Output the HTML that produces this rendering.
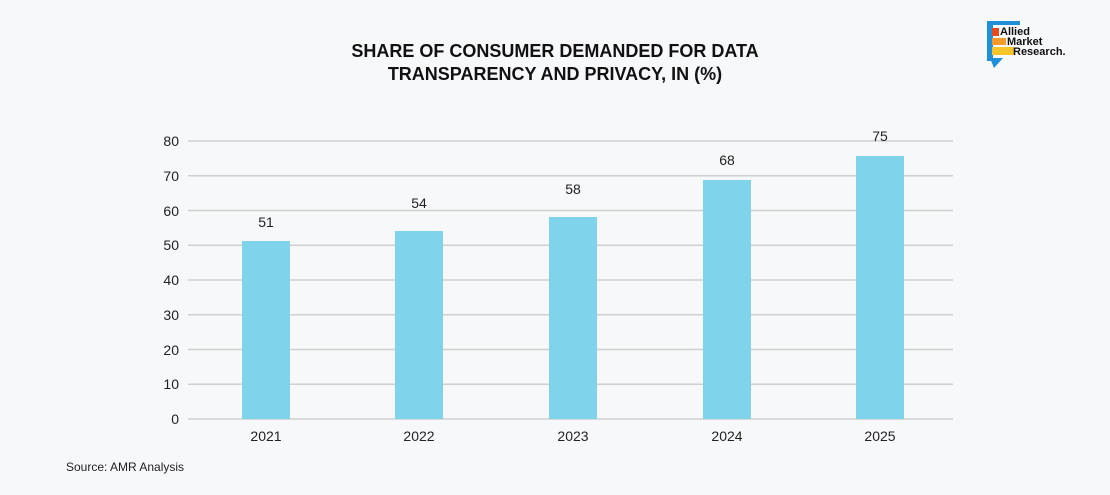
<!DOCTYPE html>
<html><head><style>
body{margin:0;width:1110px;height:490px;overflow:hidden;background:#f7f8f9;font-family:"Liberation Sans",sans-serif;}
</style></head><body>
<svg width="1110" height="490" xmlns="http://www.w3.org/2000/svg" font-family="Liberation Sans, sans-serif">
<rect width="1110" height="490" fill="#f7f8f9"/>
<text x="555" y="57" text-anchor="middle" font-size="18" font-weight="bold" fill="#111">SHARE OF CONSUMER DEMANDED FOR DATA</text>
<text x="555" y="80" text-anchor="middle" font-size="18" font-weight="bold" fill="#111">TRANSPARENCY AND PRIVACY, IN (%)</text>
<g stroke="#cfcfcf" stroke-width="1.5">
<line x1="188" x2="953" y1="141" y2="141"/><line x1="188" x2="953" y1="175.75" y2="175.75"/>
<line x1="188" x2="953" y1="210.5" y2="210.5"/><line x1="188" x2="953" y1="245.25" y2="245.25"/>
<line x1="188" x2="953" y1="280" y2="280"/><line x1="188" x2="953" y1="314.75" y2="314.75"/>
<line x1="188" x2="953" y1="349.5" y2="349.5"/><line x1="188" x2="953" y1="384.25" y2="384.25"/>
<line x1="188" x2="953" y1="419" y2="419"/>
</g>
<g font-size="14" fill="#222" text-anchor="end">
<text x="179" y="146">80</text><text x="179" y="181">70</text><text x="179" y="216">60</text>
<text x="179" y="250">50</text><text x="179" y="285">40</text><text x="179" y="320">30</text>
<text x="179" y="355">20</text><text x="179" y="389">10</text><text x="179" y="424">0</text>
</g>
<g fill="#7fd3ea">
<rect x="242" y="241" width="48" height="178"/>
<rect x="395" y="231" width="48" height="188"/>
<rect x="549" y="217" width="48" height="202"/>
<rect x="703" y="180" width="48" height="239"/>
<rect x="856" y="156" width="48" height="263"/>
</g>
<g font-size="14" fill="#222" text-anchor="middle">
<text x="266" y="227">51</text><text x="419" y="208">54</text><text x="573" y="194">58</text>
<text x="727" y="165">68</text><text x="880" y="141">75</text>
<text x="266" y="441">2021</text><text x="419" y="441">2022</text><text x="573" y="441">2023</text>
<text x="727" y="441">2024</text><text x="880" y="441">2025</text>
</g>
<text x="66" y="471" font-size="12" fill="#222">Source: AMR Analysis</text>
<g>
<rect x="987" y="21" width="6" height="40" fill="#1f8fd6"/>
<path d="M990 58 L1003 58 L994 68 Z" fill="#1f8fd6"/>
<rect x="987" y="21" width="33" height="4" fill="#1f8fd6"/>
<rect x="992" y="28" width="7" height="8" fill="#e74a1c"/>
<rect x="992" y="38" width="14" height="7" fill="#f39a2b"/>
<rect x="992" y="47" width="22" height="8" fill="#f6c52a"/>
<text x="1000" y="35" font-size="11" font-weight="bold" fill="#111">Allied</text>
<text x="1007" y="45" font-size="11" font-weight="bold" fill="#111">Market</text>
<text x="1013" y="55" font-size="11" font-weight="bold" fill="#111">Research.</text>
</g>
</svg>
</body></html>
